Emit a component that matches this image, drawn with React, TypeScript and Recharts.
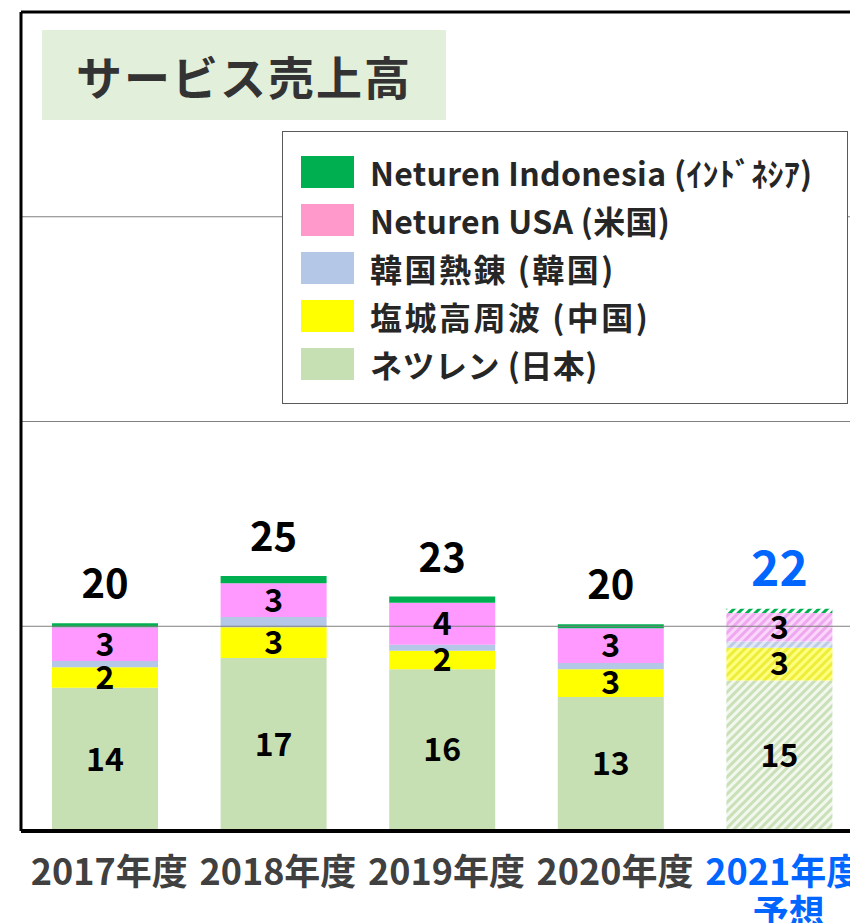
import { Bar, BarChart, Cell, LabelList, Legend, ReferenceLine, XAxis, YAxis } from 'recharts';

const years = ['2017年度', '2018年度', '2019年度', '2020年度', '2021年度'];
const yearNotes = ['', '', '', '', '予想'];
const forecast = [false, false, false, false, true];

const japan = [14.0, 16.9, 15.8, 13.1, 14.7];
const china = [2.0, 3.0, 1.8, 2.7, 3.2];
const korea = [0.6, 1.0, 0.6, 0.6, 0.6];
const usa = [3.3, 3.3, 4.1, 3.4, 2.8];
const indonesia = [0.4, 0.7, 0.6, 0.4, 0.4];

const yTicks = [0, 20, 40, 60, 80];
const gridValues = [20, 40, 60];

const FONT = "'Noto Sans CJK JP', 'Noto Sans', sans-serif";
const BLUE = '#0066FF';

// bottom -> top stacking order
const series = [
  { key: 'japan', name: 'ネツレン (日本)', color: '#C6E0B4', legend: '#C6E0B4', hatchBg: '#F3F8EF', hatchFg: '#C9E0B8', labeled: true, ls: 0.5 },
  { key: 'china', name: '塩城高周波 (中国)', color: '#FFFF00', legend: '#FFFF00', hatchBg: '#FFFF80', hatchFg: '#EEEE3A', labeled: true, ls: 2.5 },
  { key: 'korea', name: '韓国熱錬 (韓国)', color: '#B4C7E7', legend: '#B4C7E7', hatchBg: '#E2E9F5', hatchFg: '#BCCBE6', labeled: false, ls: 2.5 },
  { key: 'usa', name: 'Neturen USA (米国)', color: '#FF99FF', legend: '#FF99CC', hatchBg: '#FAD6FA', hatchFg: '#EFA8EF', labeled: true, ls: 0.3 },
  { key: 'indonesia', name: 'Neturen Indonesia (ｲﾝﾄﾞﾈｼｱ)', color: '#00B050', legend: '#00B050', hatchBg: '#FFFFFF', hatchFg: '#00B050', labeled: false, ls: 0.3 },
];

const data = years.map((year, i) => ({
  year,
  japan: japan[i],
  china: china[i],
  korea: korea[i],
  usa: usa[i],
  indonesia: indonesia[i],
}));

const totals = years.map((_, i) => japan[i] + china[i] + korea[i] + usa[i] + indonesia[i]);

function TotalLabel(props: any) {
  const { x, y, width, index } = props;
  const f = forecast[index];
  return (
    <text
      x={Number(x) + Number(width) / 2}
      y={Number(y) - (f ? 44 : 42)}
      textAnchor="middle"
      dominantBaseline="central"
      fontSize={f ? 48 : 40}
      fontWeight="bold"
      fontFamily={FONT}
      fill={f ? BLUE : '#000'}
    >
      {Math.round(totals[index])}
    </text>
  );
}

function YearTick(props: any) {
  const { x, y, payload } = props;
  const i = years.indexOf(payload.value);
  const color = forecast[i] ? BLUE : '#404040';
  return (
    <g>
      <text x={x + 4} y={y + 38} textAnchor="middle" dominantBaseline="central" fontSize={36} fontWeight="bold" fontFamily={FONT} fill={color}>
        {payload.value}
      </text>
      {yearNotes[i] ? (
        <text x={x + 9} y={y + 79} textAnchor="middle" dominantBaseline="central" fontSize={36} fontWeight="bold" fontFamily={FONT} fill={color}>
          {yearNotes[i]}
        </text>
      ) : null}
    </g>
  );
}

function LegendBox() {
  return (
    <div
      style={{
        width: 566,
        height: 273,
        boxSizing: 'border-box',
        border: '1px solid #595959',
        background: '#fff',
        paddingTop: 16,
        paddingLeft: 18,
        fontFamily: FONT,
      }}
    >
      {[...series].reverse().map((s) => (
        <div key={s.key} style={{ display: 'flex', alignItems: 'center', height: 48 }}>
          <span style={{ display: 'inline-block', width: 53, height: 32, background: s.legend }} />
          <span
            style={{
              marginLeft: 16,
              fontSize: 32,
              fontWeight: 'bold',
              color: '#262626',
              whiteSpace: 'nowrap',
              letterSpacing: s.ls,
            }}
          >
            {s.name}
          </span>
        </div>
      ))}
    </div>
  );
}

export default function App() {
  return (
    <div style={{ position: 'absolute', left: 0, top: 0, width: 850, height: 923, overflow: 'hidden', background: '#fff' }}>
      <BarChart width={864} height={923} data={data} margin={{ top: 12, right: 0, bottom: 2, left: 20 }} barSize={106}>
        <defs>
          {series.map((s) => (
            <pattern
              key={s.key}
              id={`hatch-${s.key}`}
              width={6}
              height={6}
              patternUnits="userSpaceOnUse"
              patternTransform="rotate(45)"
            >
              <rect width={6} height={6} fill={s.hatchBg} />
              <rect width={3} height={6} fill={s.hatchFg} />
            </pattern>
          ))}
        </defs>
        <XAxis
          dataKey="year"
          height={90}
          axisLine={{ stroke: '#000', strokeWidth: 4 }}
          tickLine={false}
          tickSize={0}
          tickMargin={0}
          interval={0}
          tick={<YearTick />}
        />
        <YAxis
          width={1}
          domain={[0, 80]}
          ticks={yTicks}
          tick={false}
          tickLine={false}
          axisLine={{ stroke: '#000', strokeWidth: 3 }}
          allowDataOverflow
        />
        {gridValues.map((v) => (
          <ReferenceLine key={v} y={v} stroke="#808080" strokeWidth={1} />
        ))}
        <ReferenceLine y={80} stroke="#000" strokeWidth={3} />
        {series.map((s, si) => (
          <Bar key={s.key} dataKey={s.key} name={s.name} stackId="a" fill={s.color} isAnimationActive={false}>
            {data.map((_, i) => (
              <Cell key={i} fill={forecast[i] ? `url(#hatch-${s.key})` : s.color} />
            ))}
            {s.labeled ? (
              <LabelList
                dataKey={s.key}
                position="center"
                formatter={(v: any) => Math.round(Number(v))}
                fill="#000"
                fontSize={32}
                fontWeight="bold"
                fontFamily={FONT}
              />
            ) : null}
            {si === series.length - 1 ? <LabelList dataKey={s.key} content={<TotalLabel />} /> : null}
          </Bar>
        ))}
        <Legend
          layout="horizontal"
          verticalAlign="middle"
          align="center"
          wrapperStyle={{ left: 282, top: 131, width: 566, height: 273 }}
          content={() => <LegendBox />}
        />
      </BarChart>
      <div
        style={{
          position: 'absolute',
          left: 42,
          top: 30,
          width: 404,
          height: 90,
          background: '#E2EFDA',
          boxSizing: 'border-box',
          paddingLeft: 34,
          lineHeight: '90px',
          fontFamily: FONT,
          fontSize: 46,
          fontWeight: 'bold',
          color: '#333',
          letterSpacing: 2,
        }}
      >
        サービス売上高
      </div>
    </div>
  );
}
